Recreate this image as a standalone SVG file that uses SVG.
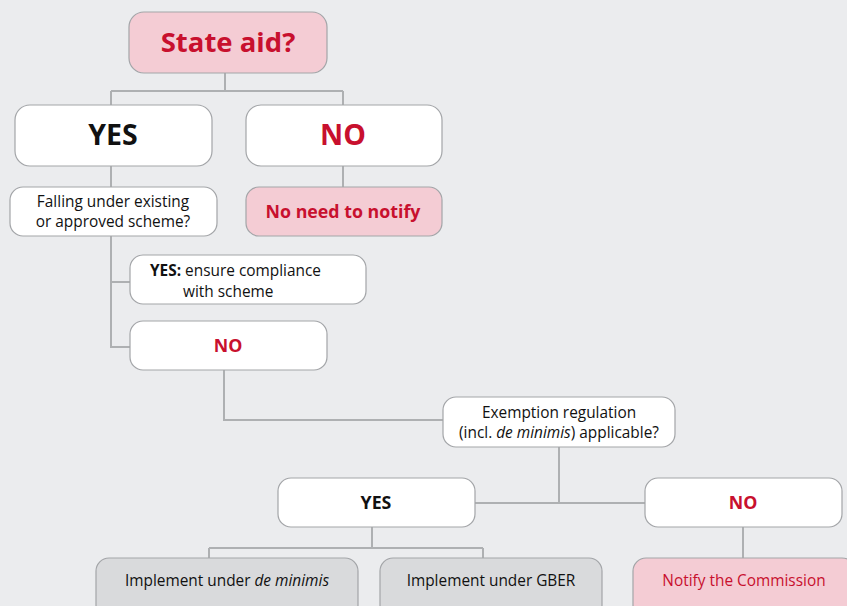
<svg xmlns="http://www.w3.org/2000/svg" width="847" height="606" viewBox="0 0 847 606">
<style>
text{font-family:"Open Sans","Noto Sans","Liberation Sans",sans-serif;text-anchor:middle;fill:#111}
.box{stroke:#a3a5a8;stroke-width:1.2;fill:#fff}
.pink{fill:#f4ccd4}
.grey{fill:#d9dadc}
.red{fill:#c8102e}
.b{font-weight:bold}
.conn{fill:none;stroke:#aeb0b2;stroke-width:2}
.t{font-size:15.4px}
.m{font-size:17.8px}
</style>
<rect width="847" height="606" fill="#ebecee"/>
<g id="connectors" class="conn">
<path d="M225 73V91M111 91H343M111 91V105M343 91V105"/>
<path d="M111 166V187M343 166V187"/>
<path d="M111 236V347H130M111 282H130"/>
<path d="M224 370V420H443"/>
<path d="M559 447V503M475 503H645"/>
<path d="M372 527V548M209 548H483M209 548V558M483 548V558"/>
<path d="M743 527V558"/>
</g>
<g id="state-aid"><rect class="box pink" x="129" y="12" width="198" height="61" rx="15"/><text class="red b" x="228" y="52" font-size="27.5">State aid?</text></g>
<g id="yes1"><rect class="box" x="15" y="105" width="197" height="61" rx="15"/><text class="b" x="113" y="145" font-size="28.5">YES</text></g>
<g id="no1"><rect class="box" x="246" y="105" width="196" height="61" rx="15"/><text class="red b" x="343" y="145" font-size="28.5">NO</text></g>
<g id="falling"><rect class="box" x="10" y="187" width="207" height="49" rx="13"/><text class="t" x="113" y="207">Falling under existing</text><text class="t" x="113" y="227">or approved scheme?</text></g>
<g id="no-need"><rect class="box pink" x="246" y="187" width="196" height="49" rx="13"/><text class="red b m" x="343" y="218">No need to notify</text></g>
<g id="ensure"><rect class="box" x="130" y="255" width="236" height="49" rx="13"/><text class="t" x="150" y="276" style="text-anchor:start"><tspan class="b">YES:</tspan> ensure compliance</text><text class="t" x="183" y="297" style="text-anchor:start">with scheme</text></g>
<g id="no2"><rect class="box" x="130" y="321" width="197" height="49" rx="13"/><text class="red b m" x="228" y="352">NO</text></g>
<g id="exemption"><rect class="box" x="443" y="397" width="232" height="50" rx="13"/><text class="t" x="559" y="418">Exemption regulation</text><text class="t" x="559" y="438">(incl. <tspan font-style="italic">de minimis</tspan>) applicable?</text></g>
<g id="yes3"><rect class="box" x="278" y="478" width="197" height="49" rx="13"/><text class="b m" x="376" y="509">YES</text></g>
<g id="no3"><rect class="box" x="645" y="478" width="197" height="49" rx="13"/><text class="red b m" x="743" y="509">NO</text></g>
<g id="deminimis"><rect class="box grey" x="96" y="558" width="262" height="60" rx="13"/><text class="t" x="227" y="586">Implement under <tspan font-style="italic">de minimis</tspan></text></g>
<g id="gber"><rect class="box grey" x="380" y="558" width="222" height="60" rx="13"/><text class="t" x="491" y="586">Implement under GBER</text></g>
<g id="notify"><rect class="box pink" x="633" y="558" width="222" height="60" rx="13"/><text class="t red" x="744" y="586">Notify the Commission</text></g>
</svg>
